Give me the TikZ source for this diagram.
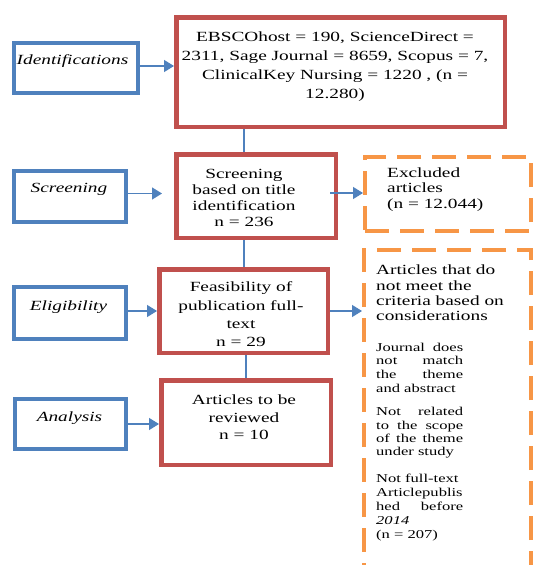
\documentclass[tikz,border=0pt]{standalone}
\usepackage{fontspec}
\setmainfont{Liberation Serif}[FakeStretch=1.38]
\usetikzlibrary{arrows.meta}
\definecolor{bblue}{HTML}{4F81BD}
\definecolor{rred}{HTML}{C0504D}
\definecolor{oorange}{HTML}{F79646}
\newcommand\jline[1]{\makebox[87pt][s]{#1}}
\begin{document}
\begin{tikzpicture}[x=1pt,y=-1pt,
  bluebox/.style={draw=bblue,line width=4pt,inner sep=0pt},
  redbox/.style={draw=rred,line width=4.5pt,inner sep=0pt},
  orangebox/.style={draw=oorange,line width=4pt,dash pattern=on 24pt off 11pt,inner sep=0pt},
  conn/.style={draw=bblue,line width=1.3pt},
  arr/.style={conn,-{Triangle[length=10pt,width=12pt]}},
  lbl/.style={inner sep=0pt,font=\fontsize{14}{16}\selectfont\itshape},
  txt/.style={inner sep=0pt,align=center}]
\clip (0,0) rectangle (534,565);
\useasboundingbox (0,0) rectangle (534,565);
\fill[white] (0,0) rectangle (534,565);

% boxes
\node[bluebox,minimum width=124pt,minimum height=50pt] (ib) at (76,68) {};
\node[redbox,minimum width=328.5pt,minimum height=109.5pt] (ir) at (340.5,72) {};
\node[bluebox,minimum width=112pt,minimum height=51pt] (sb) at (70,196.5) {};
\node[redbox,minimum width=159.5pt,minimum height=83.5pt] (sr) at (256,196) {};
\node[orangebox,minimum width=166pt,minimum height=74pt] (ex) at (448,194) {};
\node[bluebox,minimum width=112pt,minimum height=52pt] (eb) at (70,313) {};
\node[redbox,minimum width=168.5pt,minimum height=83.5pt] (er) at (243.5,311) {};
\node[orangebox,minimum width=167pt,minimum height=368pt] (nc) at (447.5,434) {};
\node[bluebox,minimum width=111pt,minimum height=50pt] (ab) at (70.5,424) {};
\node[redbox,minimum width=169.5pt,minimum height=84.5pt] (ar) at (246,422.5) {};

% labels
\node[lbl] (ibt) at (72.5,61) {Identifications};
\node[lbl] (sbt) at (69,189) {Screening};
\node[lbl] (ebt) at (68.5,307) {Eligibility};
\node[lbl] (abt) at (69.5,418) {Analysis};

\node[txt,font=\fontsize{14}{19}\selectfont] (irt) at (335,66.5)
  {EBSCOhost = 190, ScienceDirect =\\2311, Sage Journal = 8659, Scopus = 7,\\ClinicalKey Nursing = 1220 , (n =\\12.280)};
\node[txt,font=\fontsize{14}{16}\selectfont] (srt) at (244,197.5)
  {Screening\\based on title\\identification\\n = 236};
\node[txt,font=\fontsize{14}{18.3}\selectfont] (ert) at (241,314.5)
  {Feasibility of\\publication full-\\text\\n = 29};
\node[txt,font=\fontsize{14}{17.5}\selectfont] (art) at (244,417.5)
  {Articles to be\\reviewed\\n = 10};
\node[txt,align=left,anchor=west,font=\fontsize{14}{15.5}\selectfont] (ext) at (387,189.5)
  {Excluded\\articles\\(n = 12.044)};
\node[txt,align=left,anchor=west,font=\fontsize{14}{15.3}\selectfont] (nct) at (376,293)
  {Articles that do\\not meet the\\criteria based on\\considerations};
\node[txt,align=left,anchor=west,font=\fontsize{12}{13.7}\selectfont] (r1) at (376,367.5)
  {\jline{Journal does}\\\jline{not match}\\\jline{the theme}\\and abstract};
\node[txt,align=left,anchor=west,font=\fontsize{12}{13.4}\selectfont] (r2) at (376,433)
  {\jline{Not related}\\\jline{to the scope}\\\jline{of the theme}\\under study};
\node[txt,align=left,anchor=west,font=\fontsize{12}{14.2}\selectfont] (r3) at (376,507.5)
  {Not full-text\\\jline{Articlepublis}\\\jline{hed before}\\\textit{2014}\\(n = 207)};

% connectors
\coordinate (v1) at (244,0);
\coordinate (v3) at (246,0);
\draw[arr] ([yshift=2pt]ib.east) -- ([yshift=2pt]ib.east -| ir.west);
\draw[arr,shorten >=12pt] ([yshift=3pt]sb.east) -- ([yshift=3pt]sb.east -| sr.west);
\draw[arr] ([yshift=3pt]sr.east) ++(-8,0) -- ([yshift=3pt]sr.east -| ex.west);
\draw[arr] ([yshift=2pt]eb.east) -- ([yshift=2pt]eb.east -| er.west);
\draw[arr] ([yshift=0pt]er.east) -- (er.east -| nc.west);
\draw[arr] (ab.east) -- (ab.east -| ar.west);
\draw[conn] (ir.south -| v1) -- (sr.north -| v1);
\draw[conn] (sr.south -| v1) -- (er.north -| v1);
\draw[conn] (er.south -| v3) -- (ar.north -| v3);
\end{tikzpicture}
\end{document}
